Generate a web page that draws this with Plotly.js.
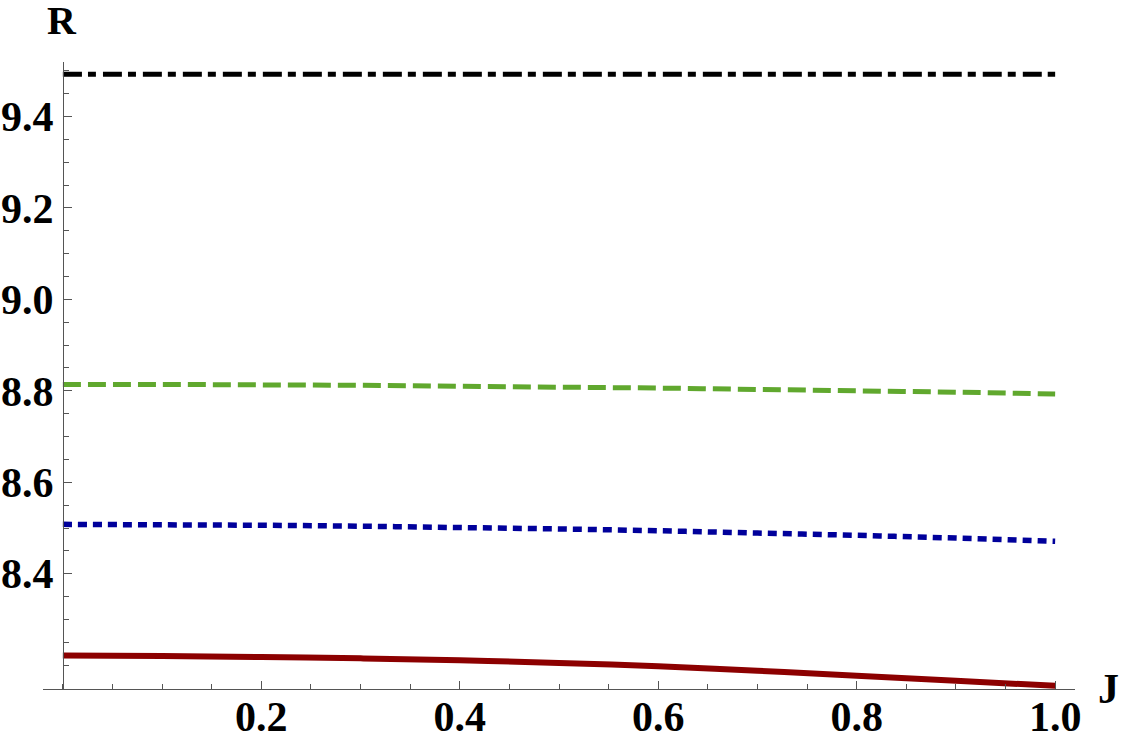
<!DOCTYPE html>
<html>
<head>
<meta charset="utf-8">
<script src="https://cdn.plot.ly/plotly-3.0.1.min.js"></script>
<style>html,body{margin:0;padding:0;background:#fff;}#chart{width:1125px;height:747px;}</style>
</head>
<body>
<div id="chart"></div>
<script>
const J = [0, 0.1, 0.2, 0.3, 0.4, 0.5, 0.6, 0.7, 0.8, 0.9, 1.0];
const R_black = [9.492, 9.492, 9.492, 9.492, 9.492, 9.492, 9.492, 9.492, 9.492, 9.492, 9.492];
const R_green = [8.814, 8.814, 8.813, 8.812, 8.810, 8.808, 8.806, 8.803, 8.800, 8.797, 8.793];
const R_blue  = [8.508, 8.507, 8.506, 8.504, 8.501, 8.498, 8.494, 8.489, 8.484, 8.478, 8.471];
const R_red   = [8.221, 8.220, 8.218, 8.215, 8.211, 8.205, 8.198, 8.188, 8.177, 8.166, 8.155];
const xTickVals = [0.2, 0.4, 0.6, 0.8, 1.0];
const xTickText = ["0.2", "0.4", "0.6", "0.8", "1.0"];
const yTickVals = [8.4, 8.6, 8.8, 9.0, 9.2, 9.4];
const yTickText = ["8.4", "8.6", "8.8", "9.0", "9.2", "9.4"];

const serif = "Liberation Serif, Times New Roman, serif";
const traces = [
  {x: J, y: R_black, mode: 'lines', line: {color: '#000000', width: 5, dash: '19px,6px,8px,7px', shape: 'spline'}},
  {x: J, y: R_green, mode: 'lines', line: {color: 'rgb(96,168,46)', width: 5, dash: '18px,7px', shape: 'spline'}},
  {x: J, y: R_blue,  mode: 'lines', line: {color: 'rgb(0,0,155)', width: 5.5, dash: '9px,6px', shape: 'spline'}},
  {x: J, y: R_red,   mode: 'lines', line: {color: 'rgb(140,0,0)', width: 6, shape: 'spline'}}
];
const tickFont = {family: serif, size: 42, color: '#000', weight: 'bold'};
const layout = {
  width: 1125, height: 747,
  margin: {l: 43, r: 50, t: 62, b: 58},
  paper_bgcolor: '#fff', plot_bgcolor: '#fff',
  showlegend: false,
  xaxis: {
    range: [-0.02, 1.02], showgrid: false, zeroline: false,
    showline: true, linecolor: '#555', linewidth: 1,
    ticks: 'inside', ticklen: 8, tickcolor: '#555', tickwidth: 1,
    tickvals: xTickVals, ticktext: xTickText, tickfont: tickFont,
    minor: {dtick: 0.05, tick0: 0, ticks: 'inside', ticklen: 5, tickcolor: '#555', showgrid: false},
    ticklabelstandoff: -9
  },
  yaxis: {
    range: [8.148, 9.519], showgrid: false, zeroline: false,
    anchor: 'free', position: 0.02 / 1.04,
    showline: true, linecolor: '#555', linewidth: 1,
    ticks: 'inside', ticklen: 8, tickcolor: '#555', tickwidth: 1,
    tickvals: yTickVals, ticktext: yTickText, tickfont: tickFont,
    minor: {dtick: 0.05, tick0: 0, ticks: 'inside', ticklen: 5, tickcolor: '#555', showgrid: false},
    ticklabelstandoff: 1
  },
  annotations: [
    {text: 'R', xref: 'paper', x: 0.0184, yref: 'paper', y: 1.066, xanchor: 'center', yanchor: 'middle', showarrow: false,
     font: {family: serif, size: 40, color: '#000', weight: 'bold'}},
    {text: 'J', xref: 'paper', x: 1.032, yref: 'paper', y: 0, xanchor: 'center', yanchor: 'middle', showarrow: false,
     font: {family: serif, size: 42, color: '#000', weight: 'bold'}}
  ]
};
Plotly.newPlot('chart', traces, layout, {displayModeBar: false, staticPlot: true});
</script>
</body>
</html>
